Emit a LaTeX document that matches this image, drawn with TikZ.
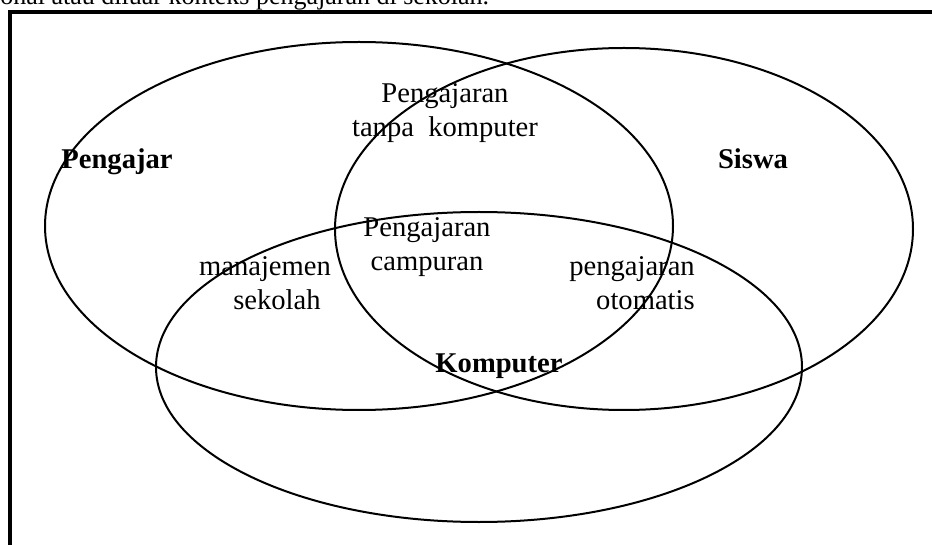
\documentclass[tikz,border=0pt]{standalone}
\usepackage{fontspec}
\setmainfont{Liberation Serif}

\begin{document}
\begin{tikzpicture}[x=0.5pt, y=-0.5pt,
		teks/.style={font=\fontsize{14.3}{17}\selectfont, inner sep=0pt, align=center},
		judul/.style={teks, font=\fontsize{14.3}{17}\selectfont\bfseries},
		garis/.style={line width=1pt}]
		
		\useasboundingbox (0,0) rectangle (932,545);
		
		% Kalimat di atas gambar (terpotong)
		\node[teks, font=\fontsize{13}{15}\selectfont, anchor=base west] (pengantar) at (0,5) {onal atau diluar konteks pengajaran di sekolah.};
		
		% Bingkai kiri dan atas
		\draw[line width=2pt] (9.5,560) -- (9.5,12.5) -- (950,12.5);
		
		% Tiga elips
		\draw[garis] (359,226) ellipse (314 and 184);
		\draw[garis] (624,229) ellipse (289 and 181);
		\draw[garis] (479,367) ellipse (323 and 155);
		
		% Nama himpunan
		\node[judul, anchor=base] (pengajar) at (117,169) {Pengajar};
		\node[judul, anchor=base] (siswa) at (753,169) {Siswa};
		\node[judul, anchor=base] (komputer) at (499,372) {Komputer};
		
		% Irisan
		\node[teks] (tanpa) at (445,113) {Pengajaran\\tanpa\ \ komputer};
		\node[teks] (campuran) at (427,247) {Pengajaran\\campuran};
		\node[teks] (manajemen) at (265,283) {manajemen\\\hspace*{12pt}sekolah};
		\node[teks, align=right] (otomatis) at (632,283) {pengajaran\\otomatis};
		
	\end{tikzpicture}
\end{document}
